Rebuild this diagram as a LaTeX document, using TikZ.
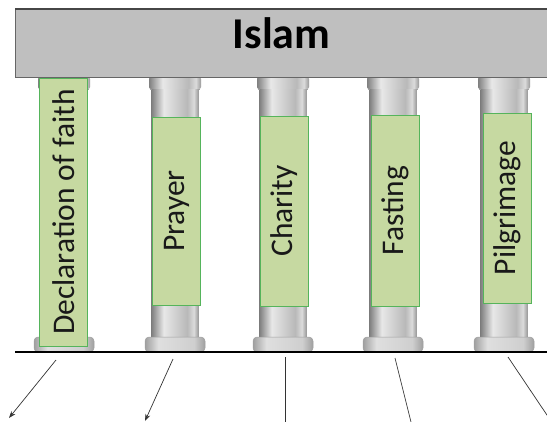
\documentclass[tikz,border=0pt]{standalone}
\usepackage{fontspec}
\setmainfont{Carlito}
\usetikzlibrary{positioning,arrows.meta}
\definecolor{roofgray}{HTML}{BFBFBF}
\definecolor{boxgreen}{HTML}{C6D9A1}
\definecolor{boxline}{HTML}{55B45B}
\pgfdeclarehorizontalshading{shaft}{100bp}{color(0bp)=(gray!100); color(25bp)=(gray!100); color(38bp)=(gray!18); color(63bp)=(gray!55); color(70bp)=(gray!28); color(75bp)=(gray!80); color(100bp)=(gray!80)}
\pgfdeclarehorizontalshading{plinthshade}{100bp}{color(0bp)=(gray!75); color(25bp)=(gray!75); color(36bp)=(gray!25); color(66bp)=(gray!38); color(75bp)=(gray!75); color(100bp)=(gray!75)}
\tikzset{roofbar/.style={fill=roofgray, draw=gray!80!black, line width=0.5pt, minimum width=540pt, minimum height=68pt, inner sep=0pt}}
\tikzset{rooftext/.style={font=\fontsize{44}{44}\selectfont\bfseries, text=black, inner sep=0pt}}
\tikzset{pillarbox/.style={draw=boxline, fill=boxgreen, line width=0.9pt, rotate=90, inner sep=0pt, minimum height=48pt, font=\fontsize{31.5}{31.5}\selectfont, text=black!90}}
\tikzset{plinth/.style={shading=plinthshade, draw=gray!75, line width=0.5pt, rounded corners=4pt}}
\tikzset{ground/.style={draw=black, line width=1.4pt}}
\tikzset{arr/.style={draw=black!80, line width=0.7pt, -{Stealth[length=7pt,width=5pt]}}}

\begin{document}
\begin{tikzpicture}[x=1pt, y=-1pt]
	\useasboundingbox (0,0) rectangle (547,421);
	\clip (0,0) rectangle (547,421);
	% columns
	\foreach \cx in {64,175,283,393,504} {
		\shade[shading=shaft, rounded corners=2pt] (\cx-26,77) rectangle (\cx+26,89);
		\draw[gray!70, line width=0.5pt] (\cx-25,89) -- (\cx+25,89);
		\shade[shading=shaft] (\cx-23.5,89) rectangle (\cx+23.5,337);
		\shade[plinth] (\cx-30,337) rectangle (\cx+30,352);
	}
	% roof
	\node[roofbar, anchor=north west] (roof) at (15,9) {};
	\draw[gray!55!black, line width=1.4pt] (roof.north west) -- (roof.north east);
	\node[rooftext, anchor=base] (islam) at (281.5,48) {Islam};
	% pillars
	\node[pillarbox, minimum width=268pt] (faith) at (63.5,212) {Declaration of faith};
	\node[pillarbox, minimum width=188pt] (prayer) at (176.5,211) {Prayer};
	\node[pillarbox, minimum width=190pt] (charity) at (284.5,211) {Charity};
	\node[pillarbox, minimum width=191pt] (fasting) at (395,210.5) {Fasting};
	\node[pillarbox, minimum width=190pt] (pilgrim) at (507,208) {Pilgrimage};
	%
	\coordinate (gw) at (15,352);
	\coordinate (ge) at (547,352);
	\draw[ground] (gw) -- (ge);
	%
	\coordinate (a1s) at (56,360);
	\coordinate (a1e) at (9,418);
	\coordinate (a2s) at (173,359);
	\coordinate (a2e) at (145,421);
	\coordinate (a3s) at (285,357);
	\coordinate (a3e) at (285,430);
	\coordinate (a4s) at (395,358);
	\coordinate (a4e) at (413,430);
	\coordinate (a5s) at (508,357);
	\coordinate (a5e) at (553,424);
	\draw[arr] (a1s) -- (a1e);
	\draw[arr] (a2s) -- (a2e);
	\draw[arr] (a3s) -- (a3e);
	\draw[arr] (a4s) -- (a4e);
	\draw[arr] (a5s) -- (a5e);
\end{tikzpicture}
\end{document}
